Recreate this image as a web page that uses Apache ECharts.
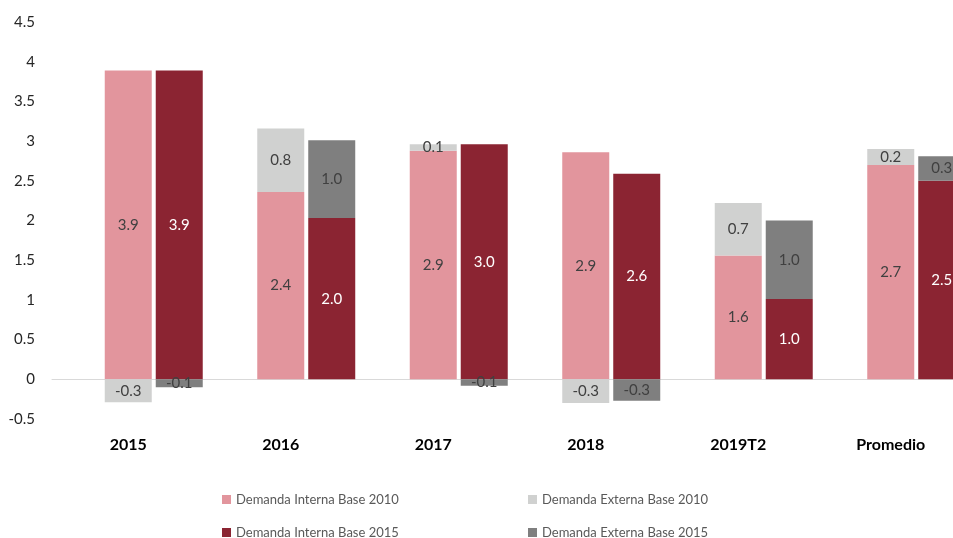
<!DOCTYPE html>
<html>
<head>
<meta charset="utf-8">
<script src="https://cdn.jsdelivr.net/npm/echarts@6/dist/echarts.min.js"></script>
<style>
  html, body { margin: 0; padding: 0; background: #ffffff; }
  #chart { width: 953px; height: 538px; }
</style>
</head>
<body>
<div id="chart"></div>
<script>
// Contribución al crecimiento por componente de demanda
const categories = ['2015', '2016', '2017', '2018', '2019T2', 'Promedio'];
const internaBase2010 = [3.89, 2.36, 2.88, 2.86, 1.56, 2.70];
const externaBase2010 = [-0.29, 0.80, 0.08, -0.30, 0.66, 0.20];
const internaBase2015 = [3.89, 2.03, 2.96, 2.59, 1.01, 2.50];
const externaBase2015 = [-0.10, 0.98, -0.08, -0.27, 0.99, 0.31];
const yTicks = { min: -0.5, max: 4.5, step: 0.5 };

const names = {
  i10: 'Demanda Interna Base 2010',
  e10: 'Demanda Externa Base 2010',
  i15: 'Demanda Interna Base 2015',
  e15: 'Demanda Externa Base 2015'
};

const FONT = 'Lato';
const BAR_W = 47;
const GAP = '8.5%';

function barSeries(name, stack, data, color, labelColor) {
  return {
    name: name,
    type: 'bar',
    stack: stack,
    data: data,
    barWidth: BAR_W,
    barGap: GAP,
    itemStyle: { color: color },
    label: {
      show: true,
      position: 'inside',
      color: labelColor,
      fontFamily: FONT,
      fontSize: 15,
      formatter: p => p.value.toFixed(1)
    },
    emphasis: { disabled: true }
  };
}

// one legend entry per box, laid out as a 2 x 2 block
function legendItem(name, left, top) {
  return {
    left: left, top: top, padding: 0,
    itemWidth: 9, itemHeight: 9, itemGap: 0,
    icon: 'rect',
    textStyle: { fontFamily: FONT, fontSize: 13, color: '#595959' },
    data: [name]
  };
}

const chart = echarts.init(document.getElementById('chart'), null, { renderer: 'canvas' });

chart.setOption({
  animation: false,
  backgroundColor: '#ffffff',
  // the last column runs past the right edge, so the grid is allowed to overflow
  grid: { left: 52, width: 915, top: 22, bottom: 119, containLabel: false, outerBoundsMode: 'none' },
  legend: [
    legendItem(names.i10, 222, 493),
    legendItem(names.e10, 528, 493),
    legendItem(names.i15, 222, 526),
    legendItem(names.e15, 528, 526)
  ],
  xAxis: {
    type: 'category',
    data: categories,
    axisLine: { onZero: true, lineStyle: { color: '#d9d9d9', width: 1 } },
    axisTick: { show: false },
    axisLabel: {
      margin: 18,
      fontFamily: FONT,
      fontWeight: 'bold',
      fontSize: 16,
      color: '#000000',
      interval: 0
    }
  },
  yAxis: {
    type: 'value',
    min: yTicks.min,
    max: yTicks.max,
    interval: yTicks.step,
    axisLine: { show: false },
    axisTick: { show: false },
    splitLine: { show: false },
    axisLabel: {
      fontFamily: FONT,
      fontSize: 15,
      color: '#262626',
      margin: 17,
      formatter: v => String(v)
    }
  },
  series: [
    // empty slot so each category label sits under the first visible column
    { name: 'pad', type: 'bar', stack: 'pad', data: categories.map(() => null), barWidth: BAR_W, barGap: GAP, silent: true },
    barSeries(names.i10, 'b2010', internaBase2010, '#e2959d', '#404040'),
    barSeries(names.e10, 'b2010', externaBase2010, '#d0d1d0', '#404040'),
    barSeries(names.i15, 'b2015', internaBase2015, '#8b2432', '#ffffff'),
    barSeries(names.e15, 'b2015', externaBase2015, '#7f7f7f', '#404040')
  ]
});
</script>
</body>
</html>
